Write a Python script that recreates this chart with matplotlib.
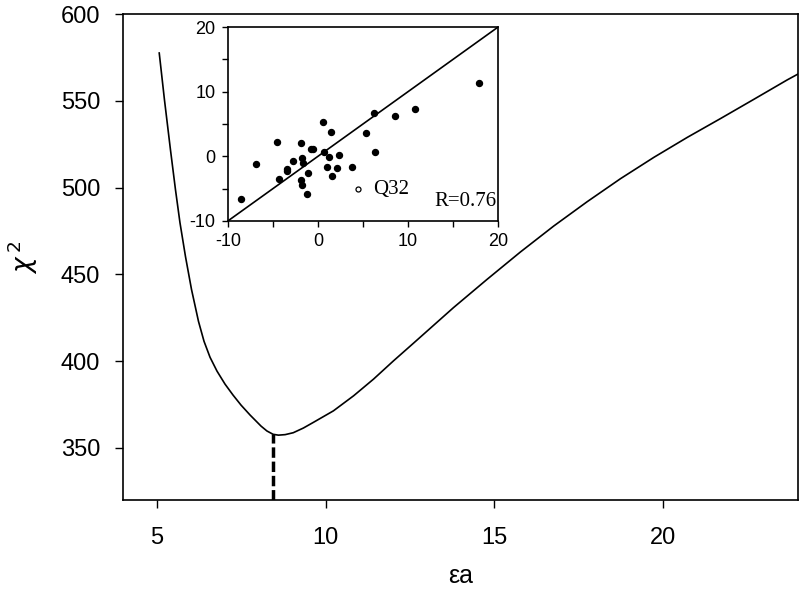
import matplotlib
matplotlib.use('Agg')
import matplotlib.pyplot as plt
from matplotlib.ticker import MultipleLocator

plt.rcParams['font.family'] = ['Liberation Sans', 'DejaVu Sans']
plt.rcParams['axes.unicode_minus'] = False
plt.rcParams['mathtext.fontset'] = 'dejavusans'

# main curve: chi^2 versus epsilon_a
eps_a = [5.068, 5.223, 5.401, 5.549, 5.682, 5.846, 6.024, 6.231, 6.395, 6.573, 6.78,
         7.018, 7.255, 7.493, 7.76, 8.086, 8.26, 8.442, 8.6, 8.8, 9.04, 9.34, 9.64,
         10.23, 10.83, 11.42, 12.01, 12.61, 13.79, 14.78, 15.77, 16.76, 17.75, 18.74,
         19.73, 20.72, 21.71, 22.69, 23.68, 24.03]
chi2 = [577.6, 550.6, 521.8, 498.9, 479.9, 460.3, 441.4, 423.0, 411.5, 402.3, 394.3,
        386.8, 380.5, 374.7, 369.0, 362.6, 359.8, 357.9, 357.4, 357.7, 358.8, 361.5,
        364.8, 371.4, 380.1, 389.7, 400.2, 410.5, 430.9, 447.1, 462.9, 477.9, 491.9,
        505.2, 517.5, 529.0, 539.9, 550.9, 562.1, 565.8]
eps_best = 8.442
chi2_best = 357.9

# inset scatter
x_pts = [-8.51, -6.84, -4.54, -4.32, -3.43, -3.43, -2.76, -1.9, -1.9, -1.83, -1.76,
         -1.68, -1.2, -1.13, -0.79, -0.53, 0.58, 0.66, 0.95, 1.21, 1.4, 1.59, 2.14,
         2.29, 3.74, 5.37, 6.23, 6.34, 8.57, 10.79, 17.89]
y_pts = [-6.6, -1.19, 2.27, -3.56, -1.91, -2.32, -0.72, 2.06, -3.71, -4.48, -0.21,
         -1.03, -5.77, -2.53, 1.19, 1.08, 5.26, 0.67, -1.7, -0.1, 3.76, -3.04, -1.8,
         0.15, -1.65, 3.56, 6.75, 0.72, 6.24, 7.37, 11.29]
q32_x, q32_y = 4.48, -5.1
r_text = 'R=0.76'

fig = plt.figure(figsize=(8, 5.89), dpi=100)
ax = fig.add_axes([0.154, 0.151, 0.8435, 0.825])
ax.plot(eps_a, chi2, color='black', lw=1.2)
ax.plot([eps_best, eps_best], [320, chi2_best], color='black', lw=2.5, ls=(0, (3, 1.1)))
ax.set_xlim(4, 24)
ax.set_ylim(320, 600)
ax.set_xticks([5, 10, 15, 20])
ax.set_yticks([350, 400, 450, 500, 550, 600])
ax.tick_params(direction='out', length=5.5, width=1, labelsize=17, colors='black')
ax.tick_params(axis='x', pad=14)
ax.tick_params(axis='y', pad=11)
for s in ax.spines.values():
    s.set_linewidth(1.2)
ax.set_xlabel('εa', fontsize=18, labelpad=11)
ax.set_ylabel('$\\chi^{\\,2}$', fontsize=19, labelpad=15)

# inset
ins = fig.add_axes([0.285, 0.625, 0.3375, 0.329])
ins.plot([-10, 20], [-10, 20], color='black', lw=1.2)
ins.plot(x_pts, y_pts, 'o', color='black', ms=4.3)
ins.plot([q32_x], [q32_y], 'o', mfc='white', mec='black', ms=3.6, mew=0.9)
ins.text(q32_x + 1.6, q32_y, 'Q32', fontsize=15, family=['Liberation Serif'],
         va='center', ha='left')
ins.text(19.8, -7.0, r_text, fontsize=15, family=['Liberation Serif'],
         va='center', ha='right')
ins.set_xlim(-10, 20)
ins.set_ylim(-10, 20)
ins.set_xticks([-10, 0, 10, 20])
ins.set_yticks([-10, 0, 10, 20])
ins.xaxis.set_minor_locator(MultipleLocator(5))
ins.yaxis.set_minor_locator(MultipleLocator(5))
ins.tick_params(which='both', direction='out', length=4, width=1, labelsize=13, pad=5)
for s in ins.spines.values():
    s.set_linewidth(1.2)

fig.savefig('out.png', dpi=100)
